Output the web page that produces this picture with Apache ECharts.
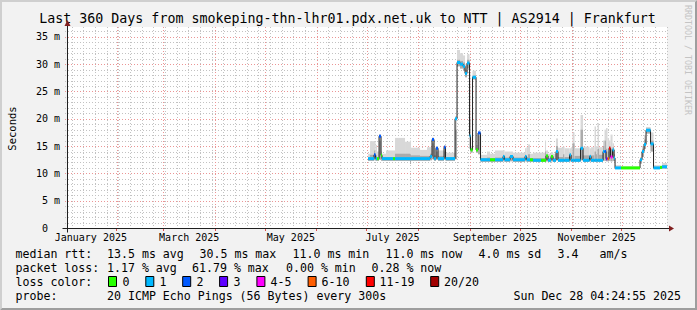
<!DOCTYPE html>
<html><head><meta charset="utf-8">
<script src="https://cdn.jsdelivr.net/npm/echarts@6/dist/echarts.min.js"></script>
<style>html,body{margin:0;padding:0;background:#f2f2f2;}#c{width:697px;height:310px;}</style>
</head><body><div id="c"></div>
<script>
// ---------------- data ----------------
const titleText = 'Last 360 Days from smokeping-thn-lhr01.pdx.net.uk to NTT | AS2914 | Frankfurt';
const yTicks = [0, 5, 10, 15, 20, 25, 30, 35];
const yMax = 36.8;
const xStart = 1.18, xEnd = 361.18;           // days since 2025-01-01 00:00
const monthStarts = [0, 31, 59, 90, 120, 151, 181, 212, 243, 273, 304, 334];
const monthLabelDays = [15.5, 74.5, 135.5, 196.5, 258, 319];
const monthLabels = ['January 2025', 'March 2025', 'May 2025', 'July 2025', 'September 2025', 'November 2025'];
const firstSunday = 4;                        // 2025-01-05

// step segments: start day, median (ms), loss bucket, smoke low / mid / high (ms)
const segStart = [181.8,183.0,185.4,186.3,187.2,188.4,189.6,190.2,192.6,196.8,198.0,204.0,207.0,207.6,213.0,217.2,219.0,220.2,221.4,222.6,223.8,227.4,228.3,234.0,235.2,237.0,238.8,240.0,241.2,242.7,243.3,244.5,246.6,247.8,249.3,253.2,255.0,258.0,262.8,263.7,267.0,268.8,276.0,276.9,277.8,279.0,280.8,285.6,288.0,288.6,289.8,291.6,292.8,294.6,295.8,298.8,299.7,302.7,303.6,304.5,305.7,309.3,310.8,314.7,315.6,317.7,318.6,319.5,320.4,322.8,323.7,324.6,325.5,326.4,327.3,328.5,329.4,330.0,333.6,345.0,346.2,347.4,348.6,351.3,353.1,357.0,358.2];
const medianMs = [12.7,12.7,13.4,12.7,12.7,16.8,13.3,12.7,12.7,12.7,12.7,12.7,12.7,12.7,12.7,12.7,13.1,16.2,12.7,14.6,12.7,14.8,12.7,20.0,30.3,30.0,29.6,28.3,30.2,16.9,14.3,27.6,14.3,17.4,12.5,12.5,12.5,12.5,13.1,12.5,13.1,12.5,13.1,12.5,12.5,12.5,12.4,12.4,12.4,13.2,12.4,13.1,12.4,14.0,12.4,12.4,12.4,13.4,12.4,12.4,12.4,14.6,12.4,13.1,12.4,12.4,12.4,12.4,12.4,14.0,14.0,12.7,12.7,14.6,13.0,14.3,12.8,11.0,11.0,12.5,14.0,15.3,17.9,15.4,11.0,11.1,11.2];
const lossIdx = [1,1,2,1,0,2,0,1,1,0,1,1,1,1,1,1,1,2,1,2,1,2,1,1,1,1,1,1,1,1,0,1,0,2,1,1,0,1,1,1,1,1,1,1,1,0,1,0,0,0,1,0,1,1,1,1,1,1,1,1,1,1,1,1,1,1,1,1,1,1,2,3,5,6,4,1,1,1,0,1,1,1,1,1,1,0,1];
const smokeLo = [12.3,12.3,12.4,12.3,12.3,12.5,12.3,12.3,12.3,12.3,12.3,12.3,11.7,12.3,12.3,12.3,12.4,12.6,12.3,12.5,12.3,12.5,12.3,12.6,29.6,29.2,28.8,27.6,29.2,14.5,13.8,27.2,13.8,13.5,12.1,12.1,12.1,12.1,12.2,12.1,12.2,12.1,12.2,12.1,12.1,12.1,12.1,12.1,12.0,12.2,12.1,12.2,12.1,12.4,12.1,12.1,12.1,12.2,12.1,12.1,12.1,12.4,12.1,12.2,12.1,12.1,12.1,12.1,12.1,12.3,12.3,12.2,12.2,12.3,12.2,12.3,12.2,10.8,10.8,11.8,13.0,14.5,17.3,14.0,10.8,10.9,10.9];
const smokeMid = [13.0,13.4,14.2,13.3,13.0,16.0,13.3,13.0,13.0,13.0,13.6,13.6,13.5,13.3,13.2,13.2,13.6,15.5,13.3,14.0,13.2,14.0,13.0,18.0,30.8,30.6,30.3,29.0,30.8,20.0,14.6,27.9,14.6,17.0,12.8,12.9,12.8,12.9,13.4,12.9,13.3,12.9,13.4,13.0,13.5,12.8,12.8,12.8,14.0,13.4,12.8,13.3,12.8,15.0,13.0,13.5,13.0,13.6,13.3,15.5,13.2,18.0,13.3,13.4,13.3,14.0,13.5,14.5,13.4,15.0,16.0,14.5,14.0,15.0,14.5,14.8,13.5,11.2,11.1,12.8,14.5,16.2,18.2,16.0,11.2,11.2,11.5];
const smokeHi = [13.6,15.9,15.9,15.2,14.0,17.2,14.0,13.6,14.2,14.2,16.5,15.8,16.0,14.7,14.3,14.8,14.8,16.6,14.8,15.0,14.2,15.2,13.8,20.5,32.6,32.0,31.6,30.0,31.8,28.5,15.0,28.8,15.2,17.8,13.4,14.0,13.6,14.2,14.3,14.0,14.0,13.8,14.6,14.8,15.3,13.6,13.8,13.8,16.0,14.2,13.6,13.9,13.6,16.4,14.7,14.9,14.6,14.6,14.8,17.5,14.6,20.7,14.9,14.6,14.8,18.6,15.0,19.2,14.8,16.0,18.0,18.3,16.5,16.0,17.1,15.5,14.5,11.5,11.3,13.0,15.0,17.0,18.5,17.5,11.5,11.4,11.9];

const lossLabels = ['0', '1', '2', '3', '4-5', '6-10', '11-19', '20/20'];
const lossColors = ['#26ff00', '#00b8ff', '#0059ff', '#5e00ff', '#ff00ff', '#ff5e00', '#ff0000', '#a10000'];

const statRtt = ['median rtt:', '13.5 ms avg', '30.5 ms max', '11.0 ms min', '11.0 ms now', '4.0 ms sd', '3.4', 'am/s'];
const statLoss = ['packet loss:', '1.17 % avg', '61.79 % max', '0.00 % min', '0.28 % now'];
const probeText = ['probe:', '20 ICMP Echo Pings (56 Bytes) every 300s', 'Sun Dec 28 04:24:55 2025'];

// ---------------- chart ----------------
const FONT = 'DejaVu Sans Mono';
const GRID_MINOR = '#c2c2c2';
const GRID_MAJOR = '#eb9595';
const chart = echarts.init(document.getElementById('c'), null, {renderer: 'svg'});

const segData = segStart.map((s, i) => [s, i + 1 < segStart.length ? segStart[i + 1] : xEnd,
  smokeLo[i], smokeMid[i], smokeHi[i], medianMs[i], lossIdx[i]]);
const medLine = segStart.map((s, i) => [s, medianMs[i]]);
medLine.push([xEnd, medianMs[medianMs.length - 1]]);

// grid positions (calendar weeks / 1 ms minor / 5 ms major)
const weekDays = [];
for (let d = firstSunday; d <= xEnd; d += 7) if (monthStarts.indexOf(d) < 0) weekDays.push([d]);
const monthDays = monthStarts.map(d => [d]);
const yMinor = [];
for (let v = 1; v < yMax; v += 1) if (v % 5 !== 0) yMinor.push([v]);
const yMajor = yTicks.filter(v => v > 0).map(v => [v]);

function vline(color) {
  return function (params, api) {
    const cs = params.coordSys;
    const x = api.coord([api.value(0), 0])[0];
    if (x < cs.x + 0.5 || x > cs.x + cs.width + 0.5) return null;
    const xx = Math.round(x) + 0.5;
    return {type: 'line', shape: {x1: xx, y1: cs.y, x2: xx, y2: cs.y + cs.height + 1},
      style: {stroke: color, lineWidth: 1, lineDash: [1, 2]}};
  };
}
function hline(color) {
  return function (params, api) {
    const cs = params.coordSys;
    const y = api.coord([xStart, api.value(0)])[1];
    const yy = Math.round(y) + 0.5;
    return {type: 'line', shape: {x1: cs.x - 2, y1: yy, x2: cs.x + cs.width, y2: yy},
      style: {stroke: color, lineWidth: 1, lineDash: [1, 2]}};
  };
}

function renderSmoke(params, api) {
  const x0 = api.value(0), x1 = api.value(1);
  const pLo = api.coord([x0, api.value(2)]);
  const pMid = api.coord([x1, api.value(3)]);
  const pHi = api.coord([x1, api.value(4)]);
  const w = Math.max(1, pHi[0] - pLo[0]);
  return {type: 'group', children: [
    {type: 'rect', shape: {x: pLo[0], y: pHi[1], width: w, height: pLo[1] - pHi[1]}, style: {fill: '#d8d8d8'}},
    {type: 'rect', shape: {x: pLo[0], y: pMid[1], width: w, height: pLo[1] - pMid[1]}, style: {fill: '#ababab'}}
  ]};
}

function renderLoss(params, api) {
  const p0 = api.coord([api.value(0), api.value(5)]);
  const p1 = api.coord([api.value(1), api.value(5)]);
  return {type: 'rect', shape: {x: p0[0], y: p0[1] - 1.5, width: Math.max(1, p1[0] - p0[0]), height: 3},
    style: {fill: lossColors[api.value(6)]}};
}

const NB = '\u00a0';
const option = {
  animation: false,
  backgroundColor: '#f2f2f2',
  grid: {left: 67, right: 30, top: 27, height: 201, show: true, backgroundColor: '#ffffff', borderWidth: 0},
  xAxis: {
    type: 'value', min: xStart, max: xEnd,
    splitLine: {show: false},
    axisLine: {show: true, onZero: false, lineStyle: {color: '#1f1f1f', width: 1}},
    axisTick: {show: true, customValues: monthStarts, length: 3, inside: false, lineStyle: {color: '#de4f4f'}},
    axisLabel: {customValues: monthLabelDays, margin: 4, color: '#000', fontFamily: FONT, fontSize: 10,
      formatter: v => { const i = monthLabelDays.indexOf(v); return i >= 0 ? monthLabels[i] : ''; }}
  },
  yAxis: {
    type: 'value', min: 0, max: yMax, interval: 5,
    splitLine: {show: false},
    axisLine: {show: true, onZero: false, lineStyle: {color: '#1f1f1f', width: 1}},
    axisTick: {show: false},
    axisLabel: {show: true, showMaxLabel: false, margin: 7, color: '#000', fontFamily: FONT, fontSize: 10,
      formatter: v => (yTicks.indexOf(v) < 0 ? '' : (v === 0 ? '0' + NB + NB : v + NB + 'm'))}
  },
  series: [
    {type: 'custom', name: 'hminor', data: yMinor, renderItem: hline(GRID_MINOR), encode: {y: 0}, silent: true, z: 1, clip: false},
    {type: 'custom', name: 'weekgrid', data: weekDays, renderItem: vline(GRID_MINOR), encode: {x: 0}, silent: true, z: 1, clip: false},
    {type: 'custom', name: 'hmajor', data: yMajor, renderItem: hline(GRID_MAJOR), encode: {y: 0}, silent: true, z: 2, clip: false},
    {type: 'custom', name: 'monthgrid', data: monthDays, renderItem: vline(GRID_MAJOR), encode: {x: 0}, silent: true, z: 2, clip: false},
    {type: 'custom', name: 'smoke', data: segData, renderItem: renderSmoke,
      encode: {x: [0, 1], y: [2, 3, 4]}, z: 3, clip: true},
    {type: 'line', name: 'median', data: medLine, step: 'end', showSymbol: false, symbol: 'none',
      lineStyle: {color: '#202020', width: 1}, z: 4, clip: true},
    {type: 'custom', name: 'loss', data: segData, renderItem: renderLoss,
      encode: {x: [0, 1], y: 5}, z: 5, clip: true}
  ]
};
chart.setOption(option);

// ---------------- decorations & legend (graphic) ----------------
const g = [];
g.push({type: 'polygon', shape: {points: [[0, 0], [697, 0], [695, 2], [2, 2], [2, 308], [0, 310]]}, style: {fill: '#cfcfcf'}, silent: true});
g.push({type: 'polygon', shape: {points: [[697, 0], [697, 310], [0, 310], [2, 308], [695, 308], [695, 2]]}, style: {fill: '#9e9e9e'}, silent: true});

g.push({type: 'text', x: 347.5, y: 18.6, style: {text: titleText, font: '13.3px "' + FONT + '"', fill: '#000', align: 'center', verticalAlign: 'middle'}});
g.push({type: 'text', x: 687.5, y: 60, rotation: -Math.PI / 2, style: {text: 'RRDTOOL / TOBI OETIKER', font: '8.3px "' + FONT + '"', fill: '#c4c4c4', align: 'center', verticalAlign: 'middle'}});
g.push({type: 'text', x: 11.5, y: 128.5, rotation: Math.PI / 2, style: {text: 'Seconds', font: '10.5px "' + FONT + '"', fill: '#000', align: 'center', verticalAlign: 'middle'}});

const LF = '11.6px "' + FONT + '"';
const rowY = [254.3, 268.3, 282.3, 296.3];
const rttX = [15.5, 107, 199.5, 292.5, 385.5, 478.5, 557.5, 599.5];
statRtt.forEach((t, i) => g.push({type: 'text', x: rttX[i], y: rowY[0], style: {text: t, font: LF, fill: '#000', verticalAlign: 'middle'}}));
const lossX = [15.5, 107, 192, 286, 371.5];
statLoss.forEach((t, i) => g.push({type: 'text', x: lossX[i], y: rowY[1], style: {text: t, font: LF, fill: '#000', verticalAlign: 'middle'}}));
g.push({type: 'text', x: 15.5, y: rowY[2], style: {text: 'loss color:', font: LF, fill: '#000', verticalAlign: 'middle'}});
const boxX = [108, 145.3, 182.2, 219.1, 256.4, 307.6, 365.8, 430.2];
const boxTextX = [122.5, 159.5, 196.5, 233.5, 270.5, 321.5, 379.5, 444];
lossLabels.forEach((t, i) => {
  g.push({type: 'rect', shape: {x: boxX[i] + 0.5, y: 276.5, width: 8, height: 10}, style: {fill: lossColors[i], stroke: '#000', lineWidth: 1}});
  g.push({type: 'text', x: boxTextX[i], y: rowY[2], style: {text: t, font: LF, fill: '#000', verticalAlign: 'middle'}});
});
g.push({type: 'text', x: 15.5, y: rowY[3], style: {text: probeText[0], font: LF, fill: '#000', verticalAlign: 'middle'}});
g.push({type: 'text', x: 107, y: rowY[3], style: {text: probeText[1], font: LF, fill: '#000', verticalAlign: 'middle'}});
g.push({type: 'text', x: 681, y: rowY[3], style: {text: probeText[2], font: LF, fill: '#000', align: 'right', verticalAlign: 'middle'}});

// axis overhangs and arrows, placed from the axes' own scale
const o = chart.convertToPixel({xAxisIndex: 0, yAxisIndex: 0}, [xStart, 0]);
const tr = chart.convertToPixel({xAxisIndex: 0, yAxisIndex: 0}, [xEnd, yMax]);
const ox = Math.round(o[0]) + 0.5, oy = Math.round(o[1]) + 0.5, ex = Math.round(tr[0]), ty = Math.round(tr[1]);
g.push({type: 'line', shape: {x1: ox - 5, y1: oy, x2: ex + 3, y2: oy}, style: {stroke: '#1f1f1f', lineWidth: 1}, z: 100});
g.push({type: 'line', shape: {x1: ox, y1: oy + 4, x2: ox, y2: ty - 2}, style: {stroke: '#1f1f1f', lineWidth: 1}, z: 100});
g.push({type: 'polygon', shape: {points: [[ox - 3, ty - 1], [ox + 3, ty - 1], [ox, ty - 7]]}, style: {fill: '#801f1f'}, z: 101});
g.push({type: 'polygon', shape: {points: [[ex + 2, oy - 3], [ex + 2, oy + 3], [ex + 7, oy]]}, style: {fill: '#801f1f'}, z: 101});

chart.setOption({graphic: {elements: g}});
</script>
</body></html>
